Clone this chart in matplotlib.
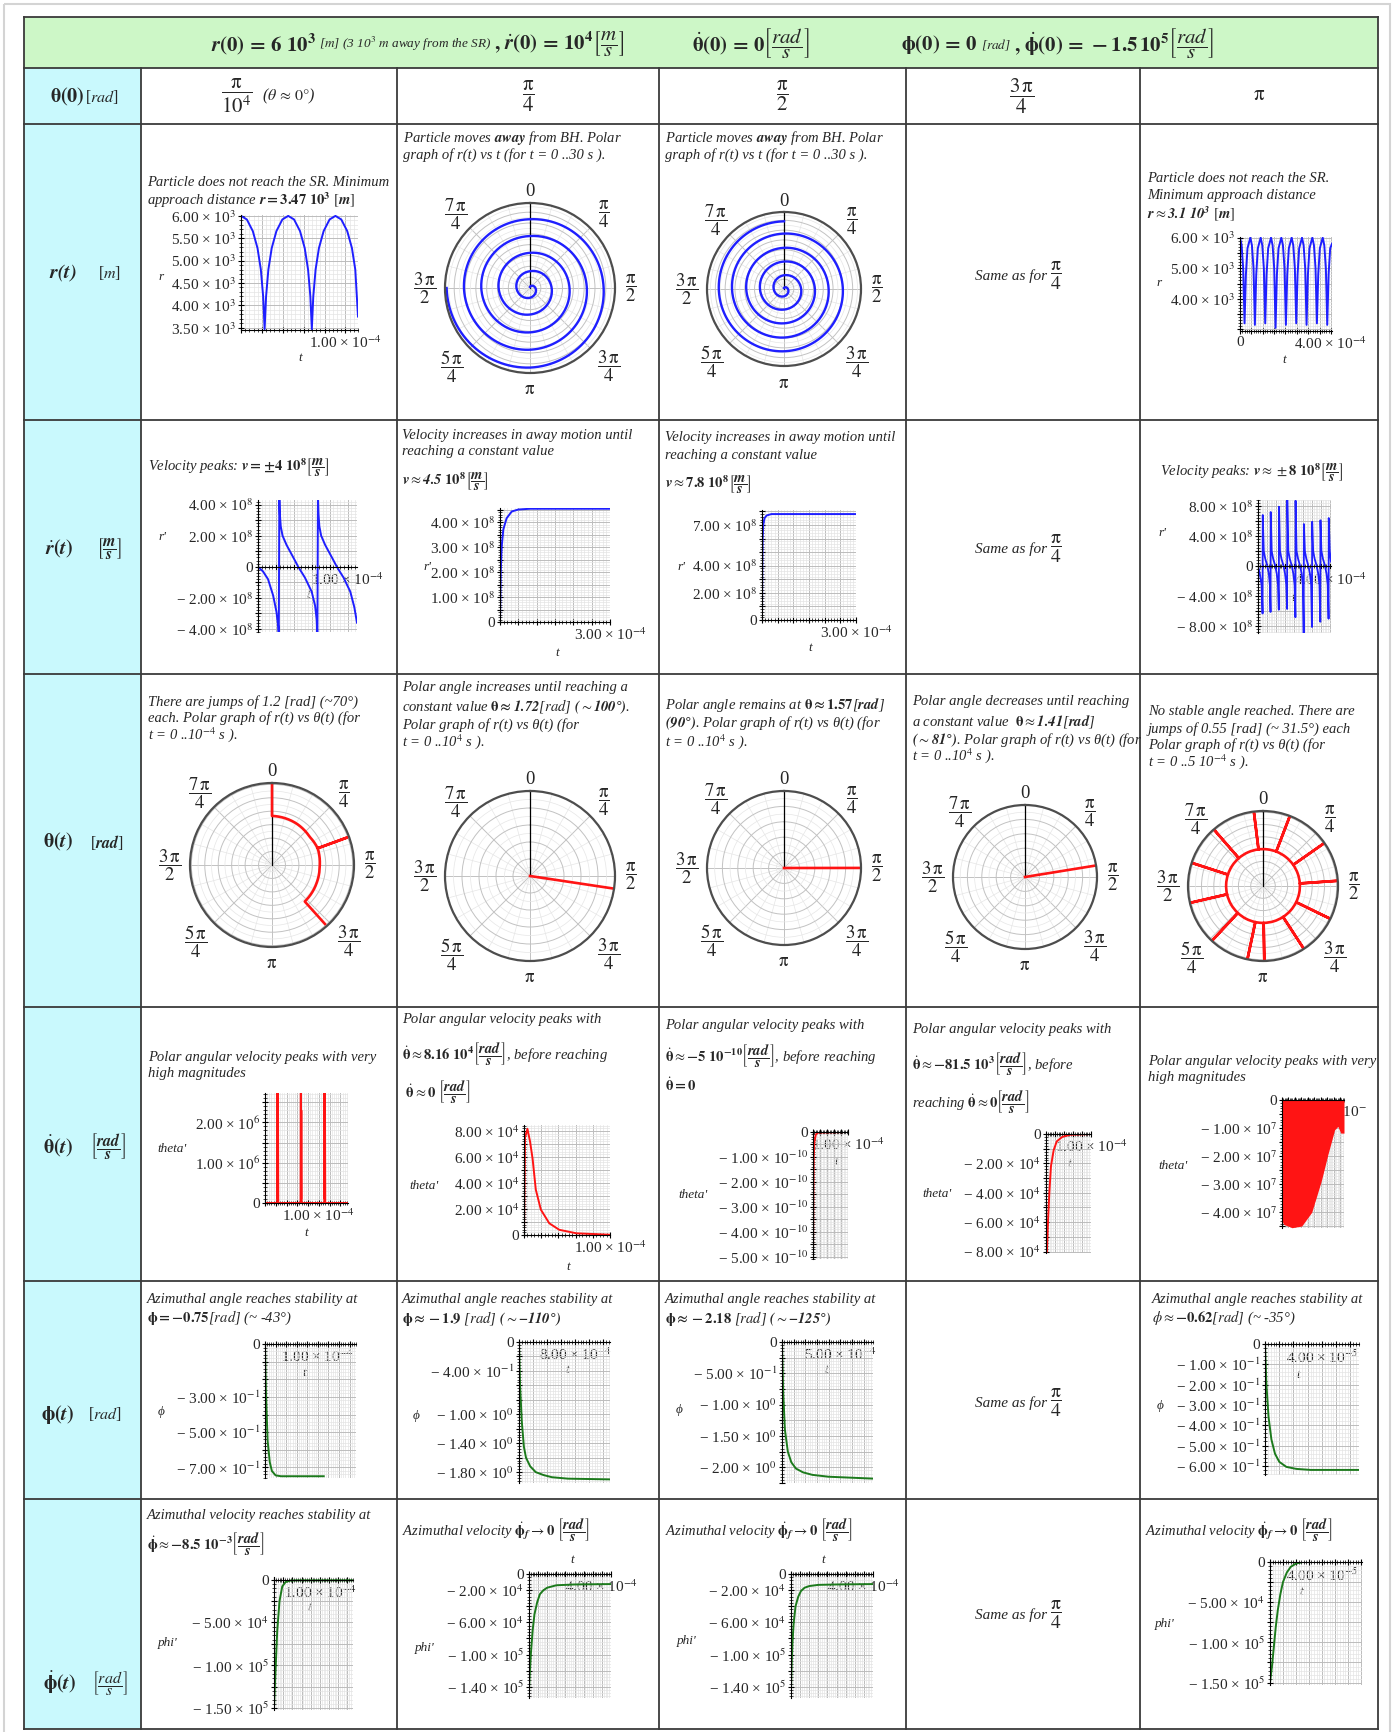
import matplotlib
matplotlib.use("Agg")
import matplotlib.pyplot as plt
import numpy as np
from matplotlib.patches import Rectangle
from matplotlib.ticker import MultipleLocator, FixedLocator, FuncFormatter

plt.rcParams["font.family"] = ["Liberation Serif", "DejaVu Serif"]
plt.rcParams["mathtext.fontset"] = "stix"

W, H = 1394, 1732
BLUE, RED, GREEN, TXT = "#1f1fff", "#ff1414", "#1c7a1c", "#262626"

# ---------------- data (t in the units of the labelled tick) ----------------
# r(t), theta(0) = pi/1e4   [t: 1e-4 s, r: 1e3 m]
r_c0_t = [0, .056, .113, .158, .190, .212, .226, .240, .262, .294, .339, .396, .452, .508, .565,
          .610, .642, .664, .678, .692, .714, .746, .791, .848, .904, .960, 1.017, 1.062, 1.094, 1.12]
r_c0 = [6.0, 5.92, 5.66, 5.28, 4.80, 4.20, 3.47, 4.20, 4.80, 5.28, 5.66, 5.92, 6.0, 5.92, 5.66,
        5.28, 4.80, 4.20, 3.47, 4.20, 4.80, 5.28, 5.66, 5.92, 6.0, 5.92, 5.66, 5.28, 4.80, 3.75]
# r(t), theta(0) = pi   [t: 1e-4 s, r: 1e3 m]
r_c4_t = [0, .07, .14, .20, .26, .33, .455, .525, .595, .655, .715, .785, .91, .98, 1.05, 1.11, 1.17,
          1.24, 1.365, 1.435, 1.505, 1.565, 1.625, 1.695, 1.82, 1.89, 1.96, 2.02, 2.08, 2.15, 2.275,
          2.345, 2.415, 2.475, 2.535, 2.605, 2.73, 2.80, 2.87, 2.93, 2.99, 3.06, 3.185, 3.255, 3.325,
          3.385, 3.445, 3.515, 3.64, 3.71, 3.78, 3.84, 3.90, 3.97, 4.05]
r_c4 = [6.0, 5.75, 5.0, 3.2, 4.8, 5.65, 6.0, 5.75, 5.0, 3.15, 4.8, 5.65, 6.0, 5.75, 5.0, 3.2, 4.8,
        5.65, 6.0, 5.75, 5.0, 3.05, 4.8, 5.65, 6.0, 5.75, 5.0, 3.15, 4.8, 5.65, 6.0, 5.75, 5.0, 3.2,
        4.8, 5.65, 6.0, 5.75, 5.0, 3.15, 4.8, 5.65, 6.0, 5.75, 5.0, 3.2, 4.8, 5.65, 6.0, 5.75, 5.0,
        3.15, 4.8, 5.65, 5.8]
# polar r(t) vs t spirals [angle deg clockwise from top, r: 1e9 m]
sp_c1_deg = [0, 90, 180, 270, 360, 450, 540, 630, 720, 810, 900, 990, 1080, 1170, 1260, 1350,
             1440, 1530, 1620, 1710]
sp_c1_r = [0.2, 1.0, 1.8, 2.5, 3.1, 4.0, 4.9, 5.8, 6.5, 7.3, 8.2, 9.0, 9.6, 10.5, 11.4, 12.2,
           12.7, 13.6, 14.7, 15.4]
sp_c2_deg = [0, 90, 180, 270, 360, 450, 540, 630, 720, 810, 900, 990, 1080, 1170, 1260, 1350,
             1440, 1530, 1620, 1710, 1800]
sp_c2_r = [0.2, 0.8, 1.5, 2.1, 2.8, 3.5, 4.2, 4.9, 5.6, 6.3, 7.0, 7.7, 8.4, 9.1, 9.9, 10.6,
           11.3, 12.0, 12.7, 13.3, 13.8]
# r'(t)  [t: 1e-4 s, r': 1e8 m/s]
rd_c0_t = [0, .056, .112, .169, .206, .225, .232, .238, .244, .254, .274, .319, .394, .449, .524,
           .599, .637, .655, .663, .669, .675, .685, .705, .750, .825, .880, .955, 1.030, 1.075, 1.105]
rd_c0 = [0, -0.3, -0.8, -1.85, -2.9, -3.8, -4.5, 4.5, 3.4, 2.6, 2.0, 1.4, 0.6, 0, -0.7,
         -1.6, -2.5, -3.4, -4.5, 4.5, 3.4, 2.6, 2.0, 1.4, 0.6, 0, -0.7, -1.6, -2.6, -3.6]
rd_c1_t = [0, 0.01, 0.02, 0.045, 0.09, 0.18, 0.32, 0.5, 0.82, 3.0]
rd_c1 = [0, 1.0, 2.0, 3.0, 3.7, 4.15, 4.42, 4.5, 4.53, 4.53]
rd_c2_t = [0, 0.005, 0.01, 0.02, 0.04, 0.08, 0.15, 0.3, 3.0]
rd_c2 = [0, 2.0, 4.0, 6.0, 7.0, 7.5, 7.7, 7.8, 7.8]
rd_c4_t = [0, 0.10, 0.20, 0.253,
           0.263, 0.32, 0.40, 0.52, 0.60, 0.66, 0.695,
           0.705, 0.76, 0.84, 0.96, 1.04, 1.11, 1.155,
           1.165, 1.22, 1.30, 1.42, 1.50, 1.57, 1.615,
           1.625, 1.68, 1.76, 1.88, 1.96, 2.03, 2.075,
           2.085, 2.14, 2.22, 2.34, 2.42, 2.49, 2.535,
           2.545, 2.60, 2.68, 2.80, 2.88, 2.95, 2.995,
           3.005, 3.06, 3.14, 3.26, 3.34, 3.41, 3.455,
           3.465, 3.52, 3.60, 3.72, 3.80, 3.87, 3.915,
           3.925, 3.98, 4.05]
rd_c4 = [0, -1.0, -2.5, -6.3,
         6.8, 2.0, 1.0, 0.0, -1.0, -2.5, -6.1,
         7.2, 2.0, 1.0, 0.0, -1.0, -2.5, -5.8,
         7.9, 2.0, 1.0, 0.0, -1.0, -2.5, -5.7,
         8.8, 2.0, 1.0, 0.0, -1.0, -2.5, -6.8,
         8.7, 2.0, 1.0, 0.0, -1.0, -2.5, -9.0,
         5.6, 2.0, 1.0, 0.0, -1.0, -2.5, -8.1,
         5.9, 2.0, 1.0, 0.0, -1.0, -2.5, -7.4,
         6.1, 2.0, 1.0, 0.0, -1.0, -2.5, -7.0,
         6.4, 2.0, 0.6]
# polar r(t) vs theta(t)  [theta rad, r: 1e3 m or relative]
th_c0_theta = [0, 0, 0.54, 0.93, 1.22, 1.22, 1.22, 1.60, 1.95, 2.41, 2.41]
th_c0_r = [6.0, 3.65, 3.58, 3.50, 3.62, 5.95, 3.62, 3.55, 3.58, 3.65, 5.90]
th_final = [1.72, 1.57, 1.41]          # pi/4, pi/2, 3pi/4 columns
th_c4_spokes_deg = [-7, 21, 55, 86, 116, 147, 179, 192, 223, 257, 288, 319]
th_c4_ring, th_c4_outer = 3.0, 6.0
# theta'(t)
thd_c0_t = [0, .225, .232, .236, .240, .246, .660, .665, .670, .674, .680, 1.100, 1.104, 1.108,
            1.112, 1.118, 1.54]
thd_c0 = [0, 0, 3.0, 0.1, 3.0, 0, 0, 3.0, 0.1, 2.3, 0, 0, 3.0, 0.1, 3.0, 0, 0]      # 1e6
thd_c1_t = [0, .012, .04, .07, .10, .137, .196, .294, .41, .61, 1.0]
thd_c1 = [0, 7.5, 8.16, 7.2, 5.86, 3.5, 1.95, 0.9, 0.4, 0.13, 0.02]                   # 1e4
thd_c2_t = [0, .005, .01, .02, .04, .08, .15, 1.0]
thd_c2 = [-5.0, -4.0, -2.5, -1.0, -0.4, -0.1, -0.02, 0]                               # 1e-10
thd_c3_t = [0.02, .044, .074, .11, .17, .24, .36, .54, 1.0]
thd_c3 = [-8.0, -6.0, -4.0, -2.2, -1.1, -0.5, -0.2, -0.05, 0]                           # 1e4
thd_c4_t = [0, .05, .31, .61, .92, 1.22, 1.43, 1.63, 1.73, 1.82, 1.92]
thd_c4_env = [-4.3, -4.43, -4.55, -4.49, -4.0, -2.87, -1.9, -1.06, -0.94, -1.18, -1.18]  # 1e7
# phi(t)  [rad]
ph_c0_t = [0, .02, .05, .09, .13, .2, .3, 1.11]
ph_c0 = [0, -0.3, -0.55, -0.67, -0.72, -0.745, -0.75, -0.75]
ph_c1_t = [0, .15, .4, .7, 1.0, 1.6, 2.4, 3.5, 4.7, 7.0, 13.0]
ph_c1 = [0, -0.6, -1.1, -1.45, -1.6, -1.72, -1.8, -1.84, -1.87, -1.89, -1.9]
ph_c2_t = [0, .1, .25, .5, .8, 1.2, 1.8, 2.6, 4.0, 7.8]
ph_c2 = [0, -0.8, -1.4, -1.75, -1.92, -2.02, -2.08, -2.12, -2.15, -2.18]
ph_c4_t = [0, .1, .25, .45, .7, 1.0, 1.5, 2.2, 3.2, 6.6]
ph_c4 = [0, -0.2, -0.36, -0.47, -0.54, -0.58, -0.605, -0.615, -0.62, -0.62]
# phi'(t)
phd_c0_t = [0, .03, .07, .12, .18, .25, .35, .50, 1.72]
phd_c0 = [-1.5, -1.1, -0.6, -0.25, -0.08, -0.03, -0.012, -0.009, -0.0085]              # 1e5
phd_c1_t = [0, .05, .1, .2, .3, .45, .6, .8, 1.0, 1.5, 2.5, 4.5]
phd_c1 = [-14.5, -12, -10, -7, -5, -3.5, -2.5, -2.0, -1.7, -1.4, -1.3, -1.25]          # 1e4
phd_c2_t = [0, .04, .08, .15, .25, .4, .55, .75, 1.0, 1.5, 2.5, 4.5]
phd_c2 = [-14.5, -11, -8.5, -6, -4, -2.8, -2.1, -1.7, -1.5, -1.35, -1.3, -1.25]         # 1e4
phd_c4_t = [0, .15, .3, .45, .6, .8, 1.0, 1.3, 1.6, 2.0, 2.5, 7.1]
phd_c4 = [-1.5, -1.3, -1.05, -0.8, -0.6, -0.4, -0.25, -0.13, -0.06, -0.02, 0, 0]      # 1e5

# tick labels
ANGLE_LABELS = ["0", r"$\dfrac{\mathrm{\pi}}{4}$", r"$\dfrac{\mathrm{\pi}}{2}$", r"$\dfrac{3\,\mathrm{\pi}}{4}$",
                r"$\mathrm{\pi}$", r"$\dfrac{5\,\mathrm{\pi}}{4}$", r"$\dfrac{3\,\mathrm{\pi}}{2}$",
                r"$\dfrac{7\,\mathrm{\pi}}{4}$"]
ANGLE_GAP = [11, 19, 16, 26, 17, 26, 20, 20]
E = "× 10$^{%s}$"
X4 = {1.0: "1.00 " + E % "-4"}

COLS = [24, 141, 397, 659, 906, 1140, 1378]
ROWS = [17, 68, 124, 420, 674, 1007, 1281, 1499, 1729]

fig = plt.figure(figsize=(W / 100, H / 100), dpi=100)
fig.patch.set_facecolor("white")
bg = fig.add_axes([0, 0, 1, 1])
bg.set_xlim(0, W)
bg.set_ylim(H, 0)
bg.axis("off")
renderer = fig.canvas.get_renderer()


def txt(x, y, s, size=10.5, ha="left", va="center", style="italic", color=TXT):
    return bg.text(x, y, s, fontsize=size, ha=ha, va=va, style=style, color=color)


def chain(x, y, pieces):
    # text pieces of different sizes written one after the other
    for s, size, style in pieces:
        t = txt(x, y, s, size=size, style=style)
        x += t.get_window_extent(renderer=renderer).width + 3


def caption(x, ys, lines, size=10.5):
    for y, s in zip(ys, lines):
        txt(x, y, s, size=size)


def maple_axes(box, xlim, ylim, xstep, ystep, xlab, ylab, nx=5, ny=5):
    x0, y0, x1, y1 = box
    ax = fig.add_axes([x0 / W, 1 - y1 / H, (x1 - x0) / W, (y1 - y0) / H])
    ax.patch.set_alpha(0)
    ax.set_xlim(*xlim)
    ax.set_ylim(*ylim)
    ax.xaxis.set_major_locator(MultipleLocator(xstep))
    ax.xaxis.set_minor_locator(MultipleLocator(xstep / nx))
    ax.yaxis.set_major_locator(MultipleLocator(ystep))
    ax.yaxis.set_minor_locator(MultipleLocator(ystep / ny))
    ax.xaxis.set_major_formatter(FuncFormatter(lambda v, p: xlab.get(round(v, 4), "")))
    ax.yaxis.set_major_formatter(FuncFormatter(lambda v, p: ylab.get(round(v, 4), "")))
    ax.grid(which="major", color="#bcbcbc", lw=0.7)
    ax.grid(which="minor", color="#e4e4e4", lw=0.5)
    ax.set_axisbelow(True)
    ax.spines[["top", "right"]].set_visible(False)
    ax.spines["left"].set_position(("data", 0) if xlim[0] <= 0 <= xlim[1] else ("axes", 0))
    ax.spines["bottom"].set_position(("data", 0) if ylim[0] <= 0 <= ylim[1] else ("axes", 0))
    ax.tick_params(which="major", direction="inout", length=4, width=0.8, labelsize=11, pad=1.5,
                   labelcolor=TXT)
    ax.tick_params(which="minor", direction="inout", length=2.2, width=0.5)
    return ax


def maple_polar(cx, cy, R, rmax, rstep):
    ax = fig.add_axes([(cx - R) / W, 1 - (cy + R) / H, 2 * R / W, 2 * R / H], projection="polar")
    ax.set_theta_zero_location("N")
    ax.set_theta_direction(-1)
    ax.set_ylim(0, rmax)
    ax.set_xticks(np.deg2rad(np.arange(0, 360, 45)))
    ax.set_xticklabels([])
    ax.xaxis.set_minor_locator(FixedLocator(np.deg2rad(np.arange(0, 360, 15))))
    ax.set_yticks(np.arange(rstep, rmax * 0.999, rstep))
    ax.set_yticklabels([])
    ax.yaxis.set_minor_locator(MultipleLocator(rstep / 2))
    ax.grid(which="major", color="#c2c2c2", lw=0.7)
    ax.grid(which="minor", color="#e6e6e6", lw=0.5)
    ax.spines["polar"].set_color("#4d4d4d")
    ax.spines["polar"].set_linewidth(1.6)
    ax.tick_params(axis="x", which="major", length=3, direction="out")
    ax.tick_params(axis="x", which="minor", length=2, direction="out")
    ax.tick_params(axis="y", which="both", length=0)
    ax.plot([0, 0], [0, rmax], color="k", lw=0.9)
    for k, s in enumerate(ANGLE_LABELS):
        a = np.deg2rad(45 * k)
        d = R + ANGLE_GAP[k]
        txt(cx + d * np.sin(a), cy - d * np.cos(a), s, size=13.5, ha="center", style="normal")
    return ax


def polar_line(ax, th, r, color, lw=1.7):
    ln, = ax.plot(th, r, color=color, lw=lw)
    ln.get_path()._interpolation_steps = 60   # drawn as a curve in polar coordinates
    return ln


# ---------------- table frame ----------------
bg.add_patch(Rectangle((4, 4), W - 8, H + 10, fill=False, ec="#d4d4d4", lw=1.5))
bg.add_patch(Rectangle((COLS[0], ROWS[0]), COLS[-1] - COLS[0], ROWS[1] - ROWS[0], fc="#cdf7c7", ec="none"))
bg.add_patch(Rectangle((COLS[0], ROWS[1]), COLS[1] - COLS[0], ROWS[-1] - ROWS[1], fc="#c9f9fd", ec="none"))
for y in ROWS:
    bg.plot([COLS[0], COLS[-1]], [y, y], color="#3a3a3a", lw=1.3)
for x in COLS:
    top = ROWS[0] if x in (COLS[0], COLS[-1]) else ROWS[1]
    bg.plot([x, x], [top, ROWS[-1]], color="#3a3a3a", lw=1.3)

# ---------------- header ----------------
hy = 44
chain(211, hy, [(r"$\mathbfit{r}\mathbf{(0)\,=\,6\ 10^{3}}$", 15, "normal"),
                (r"[$m$] (3 10$^{3}$ $m$ away from the SR)", 9.5, "italic"),
                (r"$\mathbf{,}\ \dot{\mathbfit{r}}\mathbf{(0)\,=\,10^{4}}\left[\dfrac{m}{s}\right]$", 15, "normal")])
chain(692, hy, [(r"$\dot{\mathbf{\theta}}\mathbf{(0)\,=\,0}\left[\dfrac{rad}{s}\right]$", 15, "normal")])
chain(901, hy, [(r"$\mathbf{\phi(0)\,=\,0}$", 15, "normal"),
                (r"[$rad$]", 9.5, "italic"),
                (r"$\mathbf{,}\ \dot{\mathbf{\phi}}\mathbf{(0)\,=\,-1.5\,10^{5}}\left[\dfrac{rad}{s}\right]$", 15, "normal")])

# column header row
cy0 = 96
txt(237, cy0, r"$\dfrac{\mathrm{\pi}}{10^{4}}$", size=15, ha="center", style="normal")
txt(262, cy0, r"($\theta\,\approx\,0°$)", size=11.5)
for x, s in zip([528, 782, 1022, 1259],
                [r"$\dfrac{\mathrm{\pi}}{4}$", r"$\dfrac{\mathrm{\pi}}{2}$", r"$\dfrac{3\,\mathrm{\pi}}{4}$",
                 r"$\mathrm{\pi}$"]):
    txt(x, cy0, s, size=15, ha="center", style="normal")

# row header column
rowlab = [(97, 67, r"$\mathbf{\theta(0)}$", 102, r"[$\mathit{rad}$]"),
          (273, 63, r"$\mathbfit{r(t)}$", 110, r"[$\mathit{m}$]"),
          (549, 59, r"$\dot{\mathbfit{r}}\mathbf{(}\mathbfit{t}\mathbf{)}$", 109,
           r"$\left[\dfrac{\mathbfit{m}}{\mathbfit{s}}\right]$"),
          (842, 58, r"$\mathbf{\theta(}\mathbfit{t}\mathbf{)}$", 107, r"[$\mathbfit{rad}$]"),
          (1146, 58, r"$\dot{\mathbf{\theta}}\mathbf{(}\mathbfit{t}\mathbf{)}$", 108,
           r"$\left[\dfrac{\mathbfit{rad}}{\mathbfit{s}}\right]$"),
          (1414, 58, r"$\mathbf{\phi(}\mathbfit{t}\mathbf{)}$", 105, r"[$\mathit{rad}$]"),
          (1683, 60, r"$\dot{\mathbf{\phi}}\mathbf{(}\mathbfit{t}\mathbf{)}$", 110,
           r"$\left[\dfrac{\mathit{rad}}{\mathit{s}}\right]$")]
for y, xm, sm, xu, su in rowlab:
    txt(xm, y, sm, size=14.5, ha="center", style="normal")
    txt(xu, y, su, size=11.5, ha="center", style="normal")

for y in [276, 549, 1403, 1615]:
    chain(975, y, [("Same as for", 11, "italic"), (r"$\dfrac{\mathrm{\pi}}{4}$", 14, "normal")])

MS = r"\left[\dfrac{\mathbfit{m}}{\mathbfit{s}}\right]"
RS = r"\left[\dfrac{\mathbfit{rad}}{\mathbfit{s}}\right]"

# ---------------- r(t) row ----------------
caption(147, [183, 200], ["Particle does not reach the SR. Minimum",
                          r"approach distance $\mathbfit{r}\mathbf{=3.47\ 10^{3}}\ [\mathbfit{m}]$"])
ax = maple_axes((241, 215, 358, 330), (0, 1.12), (3.45, 6.02), 0.2, 0.5, X4,
                {3.5: "3.50 " + E % 3, 4.0: "4.00 " + E % 3, 4.5: "4.50 " + E % 3,
                 5.0: "5.00 " + E % 3, 5.5: "5.50 " + E % 3, 6.0: "6.00 " + E % 3})
ax.plot(r_c0_t, r_c0, color=BLUE, lw=1.4)
txt(161, 277, "r", size=9.5, ha="center")
txt(300, 358, "t", size=9.5, ha="center")

for x, ys in [(403, [138, 155]), (665, [138, 155])]:
    caption(x, ys, [r"Particle moves $\mathbfit{away}$ from BH. Polar",
                    "graph of r(t) vs t (for t = 0 ..30 s )."])
ax = maple_polar(530, 288, 85, 15.7, 2.0)
polar_line(ax, np.deg2rad(sp_c1_deg), sp_c1_r, BLUE)
txt(500, 266, "4.00 " + E % 9, size=10, ha="center", style="normal")
txt(522, 290, "0", size=10, ha="center", style="normal")
ax = maple_polar(784, 289, 77, 15.7, 2.0)
polar_line(ax, np.deg2rad(sp_c2_deg), sp_c2_r, BLUE)
txt(776, 290, "0", size=10, ha="center", style="normal")

caption(1147, [179, 196, 214], ["Particle does not reach the SR.", "Minimum approach distance",
                                r"$\mathbfit{r}\approx\mathbfit{3.1\ 10^{3}}\ [\mathbfit{m}]$"])
ax = maple_axes((1240, 237, 1332, 331), (0, 4.05), (2.95, 6.02), 0.5, 0.5,
                {0.0: "0", 4.0: "4.00 " + E % "-4"},
                {4.0: "4.00 " + E % 3, 5.0: "5.00 " + E % 3, 6.0: "6.00 " + E % 3})
ax.plot(r_c4_t, r_c4, color=BLUE, lw=1.4)
txt(1159, 283, "r", size=9.5, ha="center")
txt(1284, 360, "t", size=9.5, ha="center")

# ---------------- r'(t) row ----------------
RD8 = {4.0: "4.00 " + E % 8, 2.0: "2.00 " + E % 8, 0.0: "0", -2.0: "− 2.00 " + E % 8, -4.0: "− 4.00 " + E % 8}
caption(148, [468], [r"Velocity peaks: $\mathbfit{v}\mathbf{=\pm 4\ 10^{8}}" + MS + "$"])
ax = maple_axes((258, 500, 357, 632), (0, 1.105), (-4.2, 4.3), 0.2, 1.0, X4, RD8)
ax.plot(rd_c0_t, rd_c0, color=BLUE, lw=1.4)
txt(162, 537, "r'", size=9.5, ha="center")
txt(308, 595, "t", size=9.5, ha="center")

caption(402, [435, 452, 482], ["Velocity increases in away motion until", "reaching a constant value",
                               r"$\mathbfit{v}\approx\mathbfit{4.5}\ \mathbf{10^{8}}" + MS + "$"])
ax = maple_axes((500, 508, 610, 622), (0, 3.0), (0, 4.56), 0.5, 0.5, {3.0: "3.00 " + E % "-4"},
                {0.0: "0", 1.0: "1.00 " + E % 8, 2.0: "2.00 " + E % 8, 3.0: "3.00 " + E % 8,
                 4.0: "4.00 " + E % 8})
ax.plot(rd_c1_t, rd_c1, color=BLUE, lw=1.4)
txt(427, 567, "r'", size=9.5, ha="center")
txt(557, 653, "t", size=9.5, ha="center")

caption(665, [437, 455, 485], ["Velocity increases in away motion until", "reaching a constant value",
                               r"$\mathbfit{v}\approx\mathbf{7.8\ 10^{8}}" + MS + "$"])
ax = maple_axes((762, 510, 856, 620), (0, 3.0), (0, 8.1), 0.5, 1.0, {3.0: "3.00 " + E % "-4"},
                {0.0: "0", 2.0: "2.00 " + E % 8, 4.0: "4.00 " + E % 8, 7.0: "7.00 " + E % 8})
ax.plot(rd_c2_t, rd_c2, color=BLUE, lw=1.4)
txt(681, 567, "r'", size=9.5, ha="center")
txt(810, 648, "t", size=9.5, ha="center")

caption(1160, [473], [r"Velocity peaks: $\mathbfit{v}\approx\pm\mathbf{8\ 10^{8}}" + MS + "$"])
ax = maple_axes((1258, 500, 1331, 633), (0, 4.05), (-8.9, 8.8), 0.5, 2.0, {4.0: "4.00 " + E % "-4"},
                {8.0: "8.00 " + E % 8, 4.0: "4.00 " + E % 8, 0.0: "0", -4.0: "− 4.00 " + E % 8,
                 -8.0: "− 8.00 " + E % 8})
ax.plot(rd_c4_t, rd_c4, color=BLUE, lw=1.3)
txt(1162, 533, "r'", size=9.5, ha="center")
txt(1293, 598, "t", size=9.5, ha="center")

# ---------------- theta(t) row ----------------
caption(148, [702, 718, 735], ["There are jumps of 1.2 [rad] (~70°)",
                               "each. Polar graph of r(t) vs θ(t) (for", r"t = 0 ..10$^{-4}$ s )."])
ax = maple_polar(272, 865, 82, 6.1, 1.0)
polar_line(ax, th_c0_theta, th_c0_r, RED, lw=1.9)
txt(227, 855, "1.00 " + E % 3, size=10, ha="center", style="normal")

caption(402, [688, 707, 725, 742], ["Polar angle increases until reaching a",
                                    r"constant value $\mathbf{\theta\approx}\mathbfit{1.72}$[$rad$] $\mathbfit{(}\sim\mathbfit{100°)}$.",
                                    "Polar graph of r(t) vs θ(t) (for", r"t = 0 ..10$^{4}$ s )."])
caption(665, [705, 723, 742], [r"Polar angle remains at $\mathbf{\theta\approx 1.57}$[$\mathbfit{rad}$]",
                               r"$\mathbfit{(90°)}$. Polar graph of r(t) vs θ(t) (for", r"t = 0 ..10$^{4}$ s )."])
caption(912, [702, 722, 740, 756], ["Polar angle decreases until reaching",
                                    r"a constant value  $\mathbf{\theta}\approx\mathbfit{1.41}$[$\mathbfit{rad}$]",
                                    r"$\mathbfit{(}\sim\mathbfit{81°)}$. Polar graph of r(t) vs θ(t) (for",
                                    r"t = 0 ..10$^{4}$ s )."])
for (cx, cy, R), th in zip([(530, 876, 85), (784, 868, 77), (1025, 877, 72)], th_final):
    ax = maple_polar(cx, cy, R, 1.0, 0.2)
    ax.plot([th, th], [0, 1.0], color=RED, lw=1.9)
    txt(cx - 9, cy, "0", size=10, ha="center", style="normal")

caption(1148, [712, 729, 745, 762], ["No stable angle reached. There are", "jumps of 0.55 [rad] (~ 31.5°) each",
                                     "Polar graph of r(t) vs θ(t) (for", r"t = 0 ..5 10$^{-4}$ s )."])
ax = maple_polar(1263, 886, 75, 6.1, 1.0)
path_t, path_r = [], []
for a in th_c4_spokes_deg + [th_c4_spokes_deg[0] + 360]:
    path_t += [np.deg2rad(a)] * 3
    path_r += [th_c4_ring, th_c4_outer, th_c4_ring]
polar_line(ax, path_t[:-2], path_r[:-2], RED, lw=1.9)
txt(1254, 887, "0", size=10, ha="center", style="normal")

# ---------------- theta'(t) row ----------------
caption(148, [1057, 1074], ["Polar angular velocity peaks with very", "high magnitudes"])
ax = maple_axes((265, 1093, 348, 1203), (0, 1.54), (0, 2.73), 0.2, 0.5, X4,
                {0.0: "0", 1.0: "1.00 " + E % 6, 2.0: "2.00 " + E % 6})
ax.plot(thd_c0_t, thd_c0, color=RED, lw=1.4)
txt(172, 1149, "theta'", size=9.5, ha="center")
txt(306, 1233, "t", size=9.5, ha="center")

caption(402, [1020, 1054, 1093], ["Polar angular velocity peaks with",
                                  r"$\dot{\mathbf{\theta}}\approx\mathbf{8.16\ 10^{4}}" + RS + "$, before reaching",
                                  r" $\dot{\mathbf{\theta}}\approx\mathbf{0}\ " + RS + "$"])
ax = maple_axes((524, 1125, 610, 1235), (0, 1.0), (0, 8.46), 0.2, 1.0, X4,
                {0.0: "0", 2.0: "2.00 " + E % 4, 4.0: "4.00 " + E % 4, 6.0: "6.00 " + E % 4,
                 8.0: "8.00 " + E % 4})
ax.plot(thd_c1_t, thd_c1, color=RED, lw=1.4)
txt(424, 1186, "theta'", size=9.5, ha="center")
txt(568, 1267, "t", size=9.5, ha="center")

caption(665, [1025, 1057, 1085], ["Polar angular velocity peaks with",
                                  r"$\dot{\mathbf{\theta}}\approx\mathbf{-5\ 10^{-10}}" + RS + "$, before reaching",
                                  r"$\dot{\mathbf{\theta}}\mathbf{=0}$"])
ax = maple_axes((813, 1132, 848, 1259), (0, 1.0), (-5.1, 0), 0.2, 0.5, X4,
                {0.0: "0", -1.0: "− 1.00 " + E % "-10", -2.0: "− 2.00 " + E % "-10",
                 -3.0: "− 3.00 " + E % "-10", -4.0: "− 4.00 " + E % "-10", -5.0: "− 5.00 " + E % "-10"})
ax.plot(thd_c2_t, thd_c2, color=RED, lw=1.4)
txt(693, 1195, "theta'", size=9.5, ha="center")
txt(836, 1162, "t", size=9.5, ha="center")

caption(912, [1030, 1064, 1102], ["Polar angular velocity peaks with",
                                  r"$\dot{\mathbf{\theta}}\approx\mathbf{-81.5\ 10^{3}}" + RS + "$, before",
                                  r"reaching $\dot{\mathbf{\theta}}\approx\mathbf{0}" + RS + "$"])
ax = maple_axes((1046, 1134, 1091, 1253), (0, 1.0), (-8.1, 0), 0.2, 1.0, X4,
                {0.0: "0", -2.0: "− 2.00 " + E % 4, -4.0: "− 4.00 " + E % 4, -6.0: "− 6.00 " + E % 4,
                 -8.0: "− 8.00 " + E % 4})
ax.plot(thd_c3_t, thd_c3, color=RED, lw=1.4)
txt(937, 1194, "theta'", size=9.5, ha="center")
txt(1069, 1164, "t", size=9.5, ha="center")

caption(1148, [1062, 1077], ["Polar angular velocity peaks with very", "high magnitudes"])
ax = maple_axes((1282, 1100, 1344, 1228), (0, 1.92), (-4.56, 0), 0.2, 0.5, {1.6: "1.60 × 10$^{-}$"},
                {0.0: "0", -1.0: "− 1.00 " + E % 7, -2.0: "− 2.00 " + E % 7, -3.0: "− 3.00 " + E % 7,
                 -4.0: "− 4.00 " + E % 7})
ax.fill_between(thd_c4_t, thd_c4_env, 0, color=RED, lw=0)
txt(1173, 1166, "theta'", size=9.5, ha="center")
txt(1313, 1132, "t", size=9.5, ha="center")

# ---------------- phi(t) row ----------------
caption(147, [1299, 1318], ["Azimuthal angle reaches stability at",
                            r"$\mathbf{\phi=-0.75}$[$rad$] (~ -43°)"])
ax = maple_axes((265, 1344, 356, 1478), (0, 1.72), (-0.76, 0), 0.2, 0.1, X4,
                {0.0: "0", -0.3: "− 3.00 " + E % "-1", -0.5: "− 5.00 " + E % "-1", -0.7: "− 7.00 " + E % "-1"})
ax.plot(ph_c0_t, ph_c0, color=GREEN, lw=1.4)
txt(161, 1412, "ϕ", size=9.5, ha="center")
txt(304, 1373, "t", size=9.5, ha="center")

caption(402, [1299, 1318], ["Azimuthal angle reaches stability at",
                            r"$\mathbf{\phi\approx-1.9}$ [$rad$] $\mathbfit{(}\sim\mathbfit{-110°)}$"])
ax = maple_axes((519, 1342, 610, 1483), (0, 13.0), (-1.95, 0), 2.0, 0.2, {8.0: "8.00 " + E % "-4"},
                {0.0: "0", -0.4: "− 4.00 " + E % "-1", -1.0: "− 1.00 " + E % 0, -1.4: "− 1.40 " + E % 0,
                 -1.8: "− 1.80 " + E % 0})
ax.plot(ph_c1_t, ph_c1, color=GREEN, lw=1.4)
txt(416, 1416, "ϕ", size=9.5, ha="center")
txt(567, 1370, "t", size=9.5, ha="center")

caption(665, [1299, 1318], ["Azimuthal angle reaches stability at",
                            r"$\mathbf{\phi\approx-2.18}$ [$rad$] $\mathbfit{(}\sim\mathbfit{-125°)}$"])
ax = maple_axes((782, 1342, 873, 1483), (0, 7.8), (-2.25, 0), 1.0, 0.25, {5.0: "5.00 " + E % "-4"},
                {0.0: "0", -0.5: "− 5.00 " + E % "-1", -1.0: "− 1.00 " + E % 0, -1.5: "− 1.50 " + E % 0,
                 -2.0: "− 2.00 " + E % 0})
ax.plot(ph_c2_t, ph_c2, color=GREEN, lw=1.4)
txt(679, 1410, "ϕ", size=9.5, ha="center")
txt(826, 1370, "t", size=9.5, ha="center")

caption(1152, [1299, 1318], ["Azimuthal angle reaches stability at",
                             r"$\phi\approx\mathbf{-0.62}$[$rad$] (~ -35°)"])
ax = maple_axes((1265, 1344, 1359, 1475), (0, 6.6), (-0.645, 0), 1.0, 0.1, {4.0: "4.00 " + E % "-5"},
                {0.0: "0", -0.1: "− 1.00 " + E % "-1", -0.2: "− 2.00 " + E % "-1", -0.3: "− 3.00 " + E % "-1",
                 -0.4: "− 4.00 " + E % "-1", -0.5: "− 5.00 " + E % "-1", -0.6: "− 6.00 " + E % "-1"})
ax.plot(ph_c4_t, ph_c4, color=GREEN, lw=1.4)
txt(1160, 1406, "ϕ", size=9.5, ha="center")
txt(1298, 1375, "t", size=9.5, ha="center")

# ---------------- phi'(t) row ----------------
caption(147, [1516, 1545], ["Azimuthal velocity reaches stability at",
                            r"$\dot{\mathbf{\phi}}\approx\mathbf{-8.5\ 10^{-3}}" + RS + "$"])
ax = maple_axes((274, 1577, 353, 1710), (0, 1.72), (-1.52, 0.03), 0.2, 0.25, X4,
                {0.0: "0", -0.5: "− 5.00 " + E % 4, -1.0: "− 1.00 " + E % 5, -1.5: "− 1.50 " + E % 5})
ax.plot(phd_c0_t, phd_c0, color=GREEN, lw=1.4)
txt(168, 1643, "phi'", size=9.5, ha="center")
txt(309, 1608, "t", size=9.5, ha="center")

PHF = r"Azimuthal velocity $\dot{\mathbf{\phi}}_{\mathbfit{f}}\rightarrow\mathbf{0}\ " + RS + "$"
PHD4 = {0.0: "0", -2.0: "− 2.00 " + E % 4, -6.0: "− 6.00 " + E % 4, -10.0: "− 1.00 " + E % 5,
        -14.0: "− 1.40 " + E % 5}
caption(402, [1530], [PHF])
ax = maple_axes((529, 1574, 611, 1698), (0, 4.5), (-15.4, 0), 0.5, 2.0, {4.0: "4.00 " + E % "-4"}, PHD4)
ax.plot(phd_c1_t, phd_c1, color=GREEN, lw=1.4)
txt(425, 1648, "phi'", size=9.5, ha="center")
txt(572, 1560, "t", size=9.5, ha="center")

caption(665, [1530], [PHF])
ax = maple_axes((791, 1574, 873, 1698), (0, 4.5), (-15.4, 0), 0.5, 2.0, {4.0: "4.00 " + E % "-4"}, PHD4)
ax.plot(phd_c2_t, phd_c2, color=GREEN, lw=1.4)
txt(687, 1641, "phi'", size=9.5, ha="center")
txt(823, 1560, "t", size=9.5, ha="center")

caption(1145, [1530], [PHF])
ax = maple_axes((1270, 1562, 1362, 1685), (0, 7.1), (-1.53, 0), 1.0, 0.25, {4.0: "4.00 " + E % "-5"},
                {0.0: "0", -0.5: "− 5.00 " + E % 4, -1.0: "− 1.00 " + E % 5, -1.5: "− 1.50 " + E % 5})
ax.plot(phd_c4_t, phd_c4, color=GREEN, lw=1.4)
txt(1165, 1624, "phi'", size=9.5, ha="center")
txt(1301, 1592, "t", size=9.5, ha="center")

fig.savefig("out.png", dpi=100)
